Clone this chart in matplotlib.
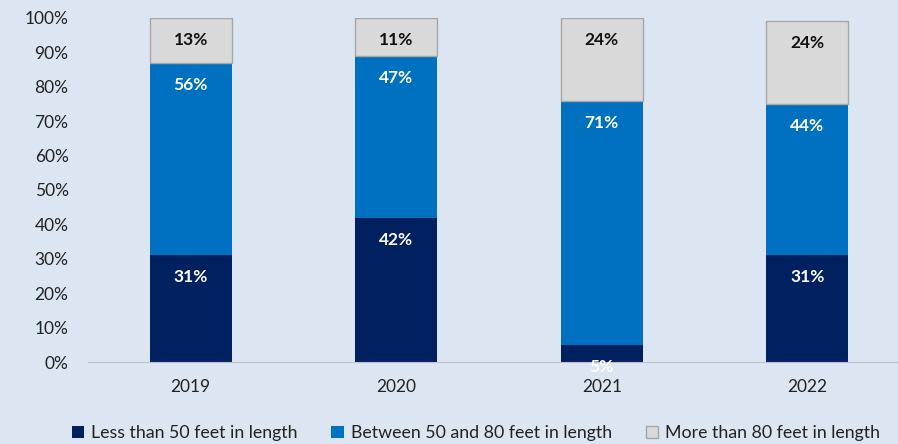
import matplotlib.pyplot as plt
import numpy as np

years = ["2019", "2020", "2021", "2022"]
under_50 = [31, 42, 5, 31]
between_50_80 = [56, 47, 71, 44]
over_80 = [13, 11, 24, 24]
series_names = ["Less than 50 feet in length",
                "Between 50 and 80 feet in length",
                "More than 80 feet in length"]

bg = "#dce6f2"
colors = ["#002060", "#0070c0", "#d9d9d9"]
edges = ["none", "none", "#a6a6a6"]
label_colors = ["white", "white", "#111111"]

plt.rcParams['font.family'] = ['Lato', 'DejaVu Sans']

fig = plt.figure(figsize=(8.98, 4.44), dpi=100, facecolor=bg)
ax = fig.add_axes([88 / 898, 1 - 362 / 444, (910 - 88) / 898, 344 / 444])
ax.set_facecolor(bg)

x = np.arange(len(years))
bottom = np.zeros(len(years))
for vals, name, c, ec, lc in zip([under_50, between_50_80, over_80],
                                  series_names, colors, edges, label_colors):
    vals = np.array(vals, dtype=float)
    ax.bar(x, vals, width=0.4, bottom=bottom, color=c, edgecolor=ec,
           linewidth=1.0 if ec != "none" else 0, label=name, zorder=2)
    for xi, b, v in zip(x, bottom, vals):
        ax.annotate(f"{int(v)}%", (xi, b + v), xytext=(0, -22),
                    textcoords="offset pixels", ha="center", va="center",
                    color=lc, fontsize=12.5, fontweight="bold", zorder=3)
    bottom += vals

ax.set_xlim(-0.5, 3.5)
ax.set_ylim(0, 100)
ax.set_yticks(np.arange(0, 101, 10))
ax.set_yticklabels([f"{v}%" for v in range(0, 101, 10)])
ax.set_xticks(x)
ax.set_xticklabels(years)
for s in ["top", "right", "left"]:
    ax.spines[s].set_visible(False)
ax.spines["bottom"].set_color("#bfbfbf")
ax.tick_params(axis="both", length=0, labelsize=12.5, colors="#222222")
ax.tick_params(axis="y", pad=14)
ax.tick_params(axis="x", pad=12)

leg = fig.legend(loc="center", bbox_to_anchor=(476 / 898, 1 - 433 / 444),
                 ncol=3, frameon=False, fontsize=12.8, handlelength=0.7,
                 handleheight=0.7, handletextpad=0.4, columnspacing=1.9)
for t in leg.get_texts():
    t.set_color("#222222")

fig.savefig("out.png", dpi=100, facecolor=bg)
